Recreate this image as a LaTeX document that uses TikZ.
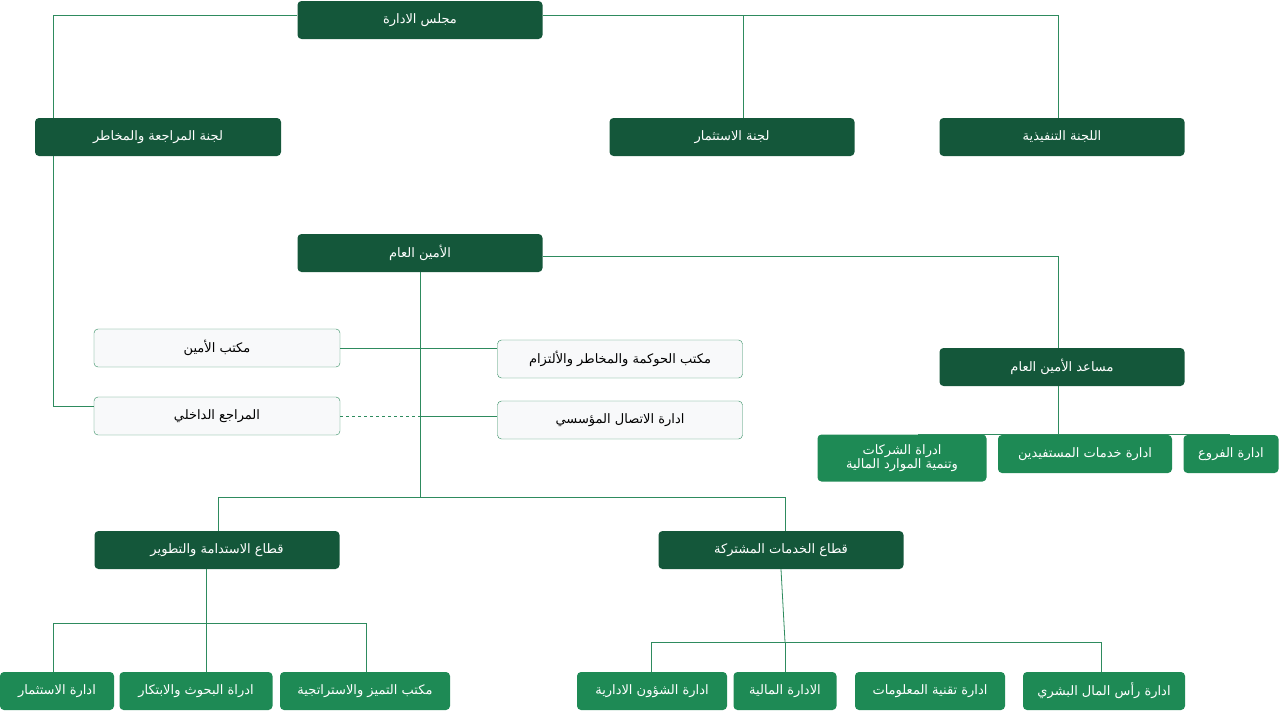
\documentclass[tikz,border=0pt]{standalone}
\usepackage{fontspec}
\newfontfamily\arfont[Script=Arabic]{DejaVu Sans}
\TeXXeTstate=1
\newcommand{\ar}[1]{{\arfont\beginR #1\endR}}
\definecolor{dk}{HTML}{14573A}
\definecolor{md}{HTML}{1E8A55}
\definecolor{lt}{HTML}{F8F9FA}
\definecolor{ln}{HTML}{2E8B5E}
\begin{document}
\begin{tikzpicture}[x=1pt,y=-1pt,
 box/.style={rectangle,rounded corners=4pt,minimum height=38pt,font=\fontsize{13}{16}\selectfont,inner sep=2pt},
 dark/.style={box,fill=dk,text=white},
 mid/.style={box,fill=md,text=white},
 light/.style={box,fill=lt,draw=ln,text=black},
 cn/.style={draw=ln,line width=0.8pt}]
\useasboundingbox (0,0) rectangle (1280,712);
\node[dark,minimum width=245pt] (board) at (420,20) {\ar{مجلس الادارة}};
\node[dark,minimum width=246pt] (audc) at (158,137) {\ar{لجنة المراجعة والمخاطر}};
\node[dark,minimum width=245pt] (invc) at (732,137) {\ar{لجنة الاستثمار}};
\node[dark,minimum width=245pt] (exec) at (1062,137) {\ar{اللجنة التنفيذية}};
\node[dark,minimum width=245pt] (sg) at (420,253) {\ar{الأمين العام}};
\node[light,minimum width=246pt] (off) at (217,348) {\ar{مكتب الأمين}};
\node[light,minimum width=245pt] (gov) at (620,359) {\ar{مكتب الحوكمة والمخاطر والألتزام}};
\node[light,minimum width=246pt] (ia) at (217,416) {\ar{المراجع الداخلي}};
\node[light,minimum width=245pt] (com) at (620,420) {\ar{ادارة الاتصال المؤسسي}};
\node[dark,minimum width=245pt] (asg) at (1062,367) {\ar{مساعد الأمين العام}};
\node[mid,minimum width=95pt] (br) at (1231,454) {\ar{ادارة الفروع}};
\node[mid,minimum width=174pt] (ben) at (1085,454) {\ar{ادارة خدمات المستفيدين}};
\node[mid,minimum width=169pt,minimum height=47pt,align=center] (co) at (902,458) {\ar{ادراة الشركات}\\[-2pt]\ar{وتنمية الموارد المالية}};
\node[dark,minimum width=245pt] (sus) at (217,550) {\ar{قطاع الاستدامة والتطوير}};
\node[dark,minimum width=245pt] (sh) at (781,550) {\ar{قطاع الخدمات المشتركة}};
\node[mid,minimum width=114pt] (b1) at (57,691) {\ar{ادارة الاستثمار}};
\node[mid,minimum width=153pt] (b2) at (196,691) {\ar{ادراة البحوث والابتكار}};
\node[mid,minimum width=170pt] (b3) at (365,691) {\ar{مكتب التميز والاستراتجية}};
\node[mid,minimum width=150pt] (b4) at (652,691) {\ar{ادارة الشؤون الادارية}};
\node[mid,minimum width=103pt] (b5) at (785,691) {\ar{الادارة المالية}};
\node[mid,minimum width=150pt] (b6) at (930,691) {\ar{ادارة تقنية المعلومات}};
\node[mid,minimum width=162pt] (b7) at (1104,691) {\ar{ادارة رأس المال البشري}};
\begin{scope}[on background layer/.style={}]
\draw[cn] (board.west|-0,15) -| (audc.north-|53,0);
\draw[cn] (board.east|-0,15) -| (exec.north-|1058,0);
\draw[cn] (743,15) -- (invc.north-|743,0);
\draw[cn] (audc.south-|53,0) |- (ia.west|-0,406);
\draw[cn] (sg.south) -- (420,497);
\draw[cn] (off.east) -- (gov.west|-off.east);
\draw[cn,dashed] (ia.east) -- (420,416);
\draw[cn] (420,416) -- (com.west|-0,416);
\draw[cn] (sg.east|-0,256) -| (asg.north-|1058,0);
\draw[cn] (asg.south-|1058,0) -- (1058,409);
\draw[cn] (co.north-|918,0) |- (br.north-|1230,409) -- (br.north-|1230,0);
\draw[cn] (1058,409) -- (ben.north-|1058,0);
\draw[cn] (sus.north-|218,0) |- (785,497) -- (sh.north-|785,0);
\draw[cn] (sus.south-|206,0) -- (206,623);
\draw[cn] (b1.north-|53,0) |- (366,623) -- (b3.north-|366,0);
\draw[cn] (206,623) -- (b2.north-|206,0);
\draw[cn] (sh.south) -- (785,642);
\draw[cn] (b4.north-|651,0) |- (1101,642) -- (b7.north-|1101,0);
\draw[cn] (785,642) -- (b5.north);
\end{scope}
\end{tikzpicture}
\end{document}
